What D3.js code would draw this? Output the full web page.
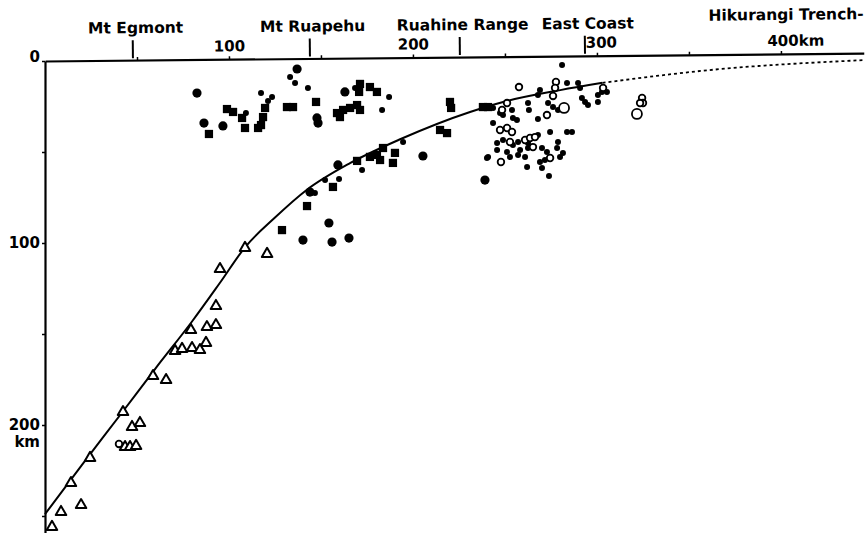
<!DOCTYPE html>
<html>
<head>
<meta charset="utf-8">
<script src="https://cdn.jsdelivr.net/npm/d3@7"></script>
<style>
body { margin: 0; background: white; }
text { font-family: "DejaVu Sans", sans-serif; font-weight: bold; fill: black; }
</style>
</head>
<body>
<script>
// distance from the west end (km), depth (km)
var triangles = [[108.7,102.7],[120.7,106.0],[95.1,114.3],[92.9,134.6],[88.0,146.2],[92.9,145.1],
  [79.3,147.8],[87.5,154.9],[70.7,159.3],[74.5,158.2],[79.9,157.7],[84.2,158.8],[58.7,173.1],
  [65.8,175.3],[42.4,192.9],[47.3,201.1],[51.6,198.9],[43.5,212.1],[46.2,212.1],[49.5,211.5],
  [24.5,218.1],[14.1,231.9],[8.7,247.8],[19.6,244.0],[3.8,256.0]];

var bigCircles = [[82.6,17.6],[86.4,34.1],[96.7,35.7],[137.0,4.4],[147.8,31.3],[148.4,34.1],
  [163.0,17.0],[205.4,52.2],[159.2,57.1],[154.3,89.0],[140.2,98.4],[156.0,99.5],[165.2,97.3],
  [239.1,65.4],[144.0,72.0]];

var squares = [[89.1,40.1],[98.9,26.4],[102.2,28.0],[107.1,31.3],[108.7,36.8],[119.6,25.8],
  [118.5,30.8],[117.4,35.2],[115.8,36.8],[131.5,25.3],[134.8,25.3],[147.3,22.5],[158.7,28.6],
  [162.0,26.9],[165.8,25.8],[169.6,24.2],[171.2,26.9],[160.3,30.8],[170.7,17.0],[171.2,12.6],
  [176.6,14.3],[180.4,17.0],[183.7,47.8],[180.4,51.6],[176.6,52.7],[182.1,54.4],[190.2,50.5],
  [189.1,56.0],[169.6,54.9],[156.5,69.2],[142.4,79.7],[128.8,92.9],[220.1,22.5],[220.7,25.8],
  [214.7,37.9],[218.5,39.6],[238.0,25.3],[240.8,25.3]];

var smallDots = [[109.2,28.6],[117.4,17.6],[123.4,19.8],[121.2,22.0],[133.2,8.8],[135.9,12.1],
  [142.9,14.8],[168.5,14.8],[187.0,19.8],[183.2,26.9],[194.6,44.5],[172.3,59.9],[152.2,65.4],
  [159.8,64.8],[146.7,72.5],[240.8,52.7],[281.0,2.2],[269.0,15.9],[267.9,18.7],[283.7,12.1],
  [289.7,12.1],[290.8,14.8],[291.8,20.3],[293.5,22.5],[295.1,24.2],[300.5,18.7],[302.7,17.0],
  [305.4,17.0],[300.5,22.5],[267.9,31.9],[262.5,23.1],[263.0,26.9],[273.4,23.1],[276.1,25.3],
  [278.8,26.9],[243.5,25.8],[253.8,26.9],[254.3,31.3],[256.5,32.4],[248.9,29.7],[247.3,28.6],
  [243.5,34.1],[245.7,45.1],[248.9,43.4],[254.3,46.2],[257.1,44.5],[267.9,40.7],[262.5,45.1],
  [274.5,39.0],[283.7,39.0],[286.4,39.0],[245.7,48.9],[251.1,50.0],[252.7,52.7],[257.1,51.6],
  [258.2,48.9],[260.9,52.7],[262.5,47.8],[270.1,47.8],[272.8,50.0],[278.8,44.5],[278.3,47.8],
  [281.5,50.5],[279.9,52.7],[271.7,54.4],[240.2,53.3],[262.0,58.2],[270.1,58.8],[269.0,55.5],
  [273.9,63.2]];

var openCircles = [[257.6,14.3],[277.7,11.5],[277.2,14.8],[276.1,19.2],[303.3,14.8],[272.8,29.7],
  [248.4,26.9],[251.1,23.1],[247.3,37.9],[251.1,36.8],[253.8,39.0],[252.7,44.5],[260.9,43.4],
  [263.6,42.3],[266.3,41.8],[265.2,47.3],[274.5,53.3],[247.8,55.5],[324.5,20.3],[325.0,23.1],
  [323.4,23.1],[40.2,210.4]];
var openCirclesLarge = [[282.1,25.8],[321.7,29.1]];

var slabLine = [[0,249],[20,222],[42,193],[60,169],[80,143],[95,122],[109,102],[125,86],
  [142,71],[166,56],[193,43],[231,28],[249,22.5],[280,16],[303,12]];
var slabDotted = [[303,12],[361,5],[445,-0.5]];

var places = ["Mt Egmont", "Mt Ruapehu", "Ruahine Range", "East Coast"];
var placeKm = [47.8, 144, 225.5, 293.5];
var trenchLabel = "Hikurangi Trench-";
var trenchKm = 403;

var xTicks = [50, 100, 150, 200, 250, 300, 350, 400];
var xLabels = [100, 200, 300, 400];
var yTicks = [0, 50, 100, 150, 200, 250];
var yLabels = [0, 100, 200];

var width = 865, height = 533;

var x = d3.scaleLinear().domain([0, 445]).range([45, 45 + 445 * 1.84]);
var y = d3.scaleLinear().domain([0, 259]).range([61, 61 + 259 * 1.82]);

var svg = d3.select("body")
    .append("svg")
    .attr("width", width)
    .attr("height", height);

// top axis, a little skewed as on the scanned page
var topAxis = svg.append("g")
    .attr("transform", "rotate(-0.55 45 61) translate(0 61)");

var xAxis = d3.axisTop(x)
    .tickValues(xTicks)
    .tickSizeInner(3)
    .tickSizeOuter(0)
    .tickPadding(5)
    .tickFormat(function(d){ return xLabels.indexOf(d) >= 0 ? d : ""; });

topAxis.call(xAxis);
topAxis.select(".domain").attr("stroke-width", 2.2);
topAxis.selectAll(".tick line").attr("stroke-width", 1.5);
topAxis.selectAll(".tick text")
    .style("font-size", "15px")
    .style("font-family", "DejaVu Sans")
    .style("font-weight", "bold");
topAxis.selectAll(".tick text")
    .filter(function(d){ return d == 300; })
    .attr("dx", "4");
topAxis.selectAll(".tick text")
    .filter(function(d){ return d == 400; })
    .attr("text-anchor", "start")
    .attr("dx", "-14")
    .text("400km");

topAxis.selectAll(".place-tick")
    .data(placeKm)
    .enter()
    .append("line")
    .attr("x1", function(d){ return x(d); })
    .attr("x2", function(d){ return x(d); })
    .attr("y1", -2)
    .attr("y2", -20)
    .attr("stroke", "black")
    .attr("stroke-width", 2);

topAxis.selectAll(".place")
    .data(places)
    .enter()
    .append("text")
    .attr("x", function(d, i){ return x(placeKm[i]) + 3; })
    .attr("y", -27)
    .attr("text-anchor", "middle")
    .style("font-size", "15.5px")
    .text(function(d){ return d; });

topAxis.append("text")
    .attr("x", x(trenchKm))
    .attr("y", -34)
    .attr("text-anchor", "middle")
    .style("font-size", "15.5px")
    .text(trenchLabel);

// depth axis
var yAxis = d3.axisLeft(y)
    .tickValues(yTicks)
    .tickSizeInner(3)
    .tickSizeOuter(0)
    .tickPadding(2)
    .tickFormat(function(d){ return yLabels.indexOf(d) >= 0 ? d : ""; });

var leftAxis = svg.append("g")
    .attr("transform", "translate(45,0)")
    .call(yAxis);
leftAxis.select(".domain").attr("stroke-width", 2.2);
leftAxis.selectAll(".tick line").attr("stroke-width", 1.5);
leftAxis.selectAll(".tick text")
    .style("font-size", "15px")
    .style("font-family", "DejaVu Sans")
    .style("font-weight", "bold");
leftAxis.selectAll(".tick text")
    .filter(function(d){ return d == 0; })
    .attr("dy", "0.05em");

leftAxis.append("text")
    .attr("x", -5)
    .attr("y", y(200) + 22)
    .attr("text-anchor", "end")
    .style("font-size", "15px")
    .text("km");

// slab outline
var line = d3.line()
    .x(function(d){ return x(d[0]); })
    .y(function(d){ return y(d[1]); })
    .curve(d3.curveMonotoneX);

svg.append("path")
    .attr("d", line(slabLine))
    .attr("fill", "none")
    .attr("stroke", "black")
    .attr("stroke-width", 2);

svg.append("path")
    .attr("d", line(slabDotted))
    .attr("fill", "none")
    .attr("stroke", "black")
    .attr("stroke-width", 1.8)
    .attr("stroke-dasharray", "3,3");

// earthquakes
svg.selectAll(".sq")
    .data(squares)
    .enter()
    .append("path")
    .attr("d", d3.symbol(d3.symbolSquare, 68))
    .attr("transform", function(d){ return "translate(" + x(d[0]) + "," + y(d[1]) + ")"; })
    .attr("fill", "black");

svg.selectAll(".big")
    .data(bigCircles)
    .enter()
    .append("circle")
    .attr("cx", function(d){ return x(d[0]); })
    .attr("cy", function(d){ return y(d[1]); })
    .attr("r", 4.6)
    .attr("fill", "black");

svg.selectAll(".dot")
    .data(smallDots)
    .enter()
    .append("circle")
    .attr("cx", function(d){ return x(d[0]); })
    .attr("cy", function(d){ return y(d[1]); })
    .attr("r", 3)
    .attr("fill", "black");

svg.selectAll(".ring")
    .data(openCircles)
    .enter()
    .append("circle")
    .attr("cx", function(d){ return x(d[0]); })
    .attr("cy", function(d){ return y(d[1]); })
    .attr("r", 3.3)
    .attr("fill", "white")
    .attr("stroke", "black")
    .attr("stroke-width", 1.8);

svg.selectAll(".ringL")
    .data(openCirclesLarge)
    .enter()
    .append("circle")
    .attr("cx", function(d){ return x(d[0]); })
    .attr("cy", function(d){ return y(d[1]); })
    .attr("r", 5)
    .attr("fill", "white")
    .attr("stroke", "black")
    .attr("stroke-width", 1.8);

svg.selectAll(".tri")
    .data(triangles)
    .enter()
    .append("path")
    .attr("d", d3.symbol(d3.symbolTriangle, 48))
    .attr("transform", function(d){ return "translate(" + x(d[0]) + "," + y(d[1]) + ")"; })
    .attr("fill", "white")
    .attr("stroke", "black")
    .attr("stroke-width", 2)
    .attr("stroke-linejoin", "round");
</script>
</body>
</html>
